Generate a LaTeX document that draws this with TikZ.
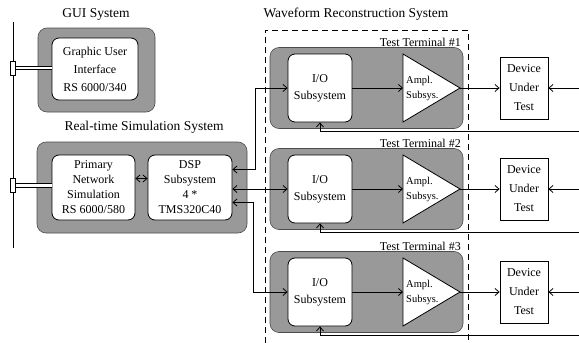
\documentclass[tikz,border=0pt]{standalone}
\usepackage{fontspec}
\setmainfont{Liberation Serif}
\usetikzlibrary{arrows.meta}
\tikzset{
  panel/.style={draw=black!70, fill=black!40, rounded corners=9pt, line width=0.6pt, inner sep=0pt},
  unit/.style={draw, fill=white, rounded corners=7pt, line width=0.8pt, inner sep=0pt, align=center},
  dutbox/.style={draw, fill=white, line width=0.8pt, inner sep=0pt, align=center,
    minimum width=48pt, minimum height=62pt, font=\fontsize{12}{19}\selectfont},
  title/.style={font=\fontsize{13.5}{16}\selectfont, inner sep=0pt},
  lbl/.style={font=\fontsize{12}{14}\selectfont, inner sep=0pt},
  wire/.style={line width=0.8pt, -{Straight Barb[length=4pt,width=7pt]}},
  biwire/.style={line width=0.8pt, {Straight Barb[length=4pt,width=7pt]}-{Straight Barb[length=4pt,width=7pt]}},
  tapbox/.style={draw, fill=white, line width=0.7pt, minimum width=5pt, minimum height=14pt, inner sep=0pt},
  pipeout/.style={line width=4.6pt, black},
  pipein/.style={line width=2.8pt, white},
  frame/.style={dashed, dash pattern=on 6pt off 4pt, line width=0.7pt},
}
\begin{document}
\begin{tikzpicture}[x=1pt,y=-1pt]
\useasboundingbox (0,0) rectangle (579,343);

% titles
\node[title] (guititle) at (96,14) {GUI System};
\node[title] (rttitle) at (144,127) {Real-time Simulation System};
\node[title] (wrtitle) at (356,14) {Waveform Reconstruction System};

% GUI system
\node[panel, minimum width=117pt, minimum height=84pt] (guipanel) at (96.5,70) {};
\node[unit, minimum width=86pt, minimum height=62pt, font=\fontsize{12}{18}\selectfont]
  (gui) at (95,69) {Graphic User\\Interface\\RS 6000/340};

% real-time simulation system
\node[panel, minimum width=210pt, minimum height=91pt] (rtpanel) at (142,187.5) {};
\node[unit, minimum width=83pt, minimum height=65pt, font=\fontsize{12}{15}\selectfont]
  (prim) at (93.5,187.5) {Primary\\Network\\Simulation\\RS 6000/580};
\node[unit, minimum width=84pt, minimum height=65pt, font=\fontsize{12}{15}\selectfont]
  (dsp) at (190,187.5) {DSP\\Subsystem\\4 *\\TMS320C40};
\draw[biwire] ([yshift=9pt]prim.east) -- ([yshift=9pt]dsp.west);

% system bus with taps
\coordinate (bustop) at (13,22);
\coordinate (busbot) at (13,248);
\draw[line width=0.9pt] (bustop) -- (busbot);
\node[tapbox] (tap1) at (13,68) {};
\node[tapbox] (tap2) at (13,185.5) {};
\draw[pipeout] (tap1.east) -- (tap1.east -| gui.west);
\draw[pipein] (tap1.east) -- (tap1.east -| gui.west);
\draw[pipeout] (tap2.east) -- (tap2.east -| prim.west);
\draw[pipein] (tap2.east) -- (tap2.east -| prim.west);

% waveform reconstruction frame
\coordinate (fbl) at (265,343);
\coordinate (ftl) at (265,30);
\coordinate (ftr) at (468,30);
\coordinate (fbr) at (468,343);
\draw[frame] (fbl) -- (ftl) -- (ftr) -- (fbr);

% test terminals
\foreach \i/\c in {1/88,2/189,3/292}{
  \node[panel, minimum width=193pt, minimum height=81pt] (tt\i) at (366.5,\c) {};
  \node[lbl, anchor=east] (ttl\i) at (461,\c-46) {Test Terminal \#\i};
  \node[unit, minimum width=64pt, minimum height=68pt, font=\fontsize{12}{17}\selectfont]
    (io\i) at (320,\c) {I/O\\Subsystem};
  \coordinate (amptop\i) at (403,\c-34);
  \coordinate (ampbot\i) at (403,\c+34);
  \coordinate (amptip\i) at (460,\c);
  \coordinate (ampin\i) at (403,\c);
  \draw[fill=white, line width=0.8pt, line join=miter] (amptop\i) -- (amptip\i) -- (ampbot\i) -- cycle;
  \node[anchor=west, align=left, inner sep=0pt, font=\fontsize{10.5}{15}\selectfont]
    (amp\i) at (406,\c) {Ampl.\\Subsys.};
  \node[dutbox] (dut\i) at (524,\c) {Device\\Under\\Test};
  \draw[wire] (io\i.east) -- (ampin\i);
  \draw[wire] (amptip\i) -- (dut\i.west);
  \coordinate (in\i) at (579,\c);
  \coordinate (fb\i) at (579,\c+43);
  \draw[wire] (in\i) -- (dut\i.east);
  \draw[wire] (fb\i) -| (io\i.south);
}

% DSP links to the I/O subsystems
\draw[biwire] ([yshift=18pt]dsp.east) -- ++(23,0) |- (io1.west);
\draw[biwire] (dsp.east |- io2.west) -- (io2.west);
\draw[biwire] ([yshift=-15pt]dsp.east) -- ++(21,0) |- (io3.west);
\end{tikzpicture}
\end{document}
